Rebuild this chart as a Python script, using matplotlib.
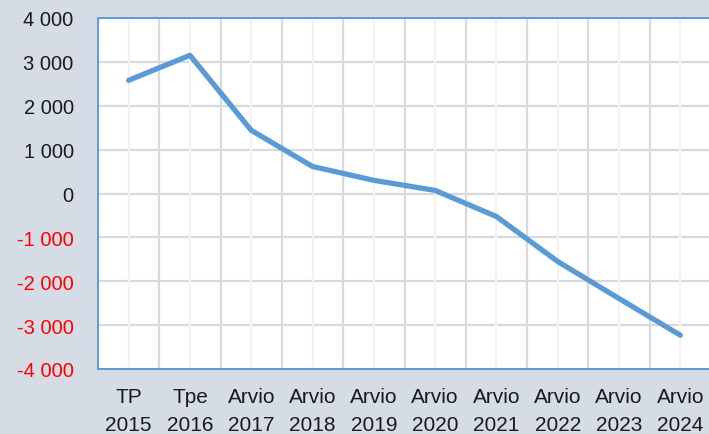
import matplotlib.pyplot as plt
import numpy as np

plt.rcParams['font.family'] = ['Liberation Sans', 'DejaVu Sans']

# data
categories = ['TP\n2015', 'Tpe\n2016', 'Arvio\n2017', 'Arvio\n2018', 'Arvio\n2019',
              'Arvio\n2020', 'Arvio\n2021', 'Arvio\n2022', 'Arvio\n2023', 'Arvio\n2024']
values = [2580, 3150, 1440, 615, 300, 70, -525, -1550, -2395, -3230]
yticks = [4000, 3000, 2000, 1000, 0, -1000, -2000, -3000, -4000]

bg = '#D6DCE5'
blue = '#5B9BD5'

fig = plt.figure(figsize=(7.09, 4.35), dpi=100, facecolor=bg)
W, H = 709, 435
ax = fig.add_axes([98 / W, (H - 370) / H, (711 - 98) / W, (370 - 19) / H])
ax.set_facecolor('white')

x = np.arange(len(categories))

# grid lines
for yt in yticks:
    ax.axhline(yt, color='#D9D9D9', lw=1.6, zorder=1)
for xb in np.arange(0.5, len(categories) - 0.5, 1):
    ax.axvline(xb, color='#D9D9D9', lw=1.6, zorder=1)
for xc in x:
    ax.axvline(xc, color='#F2F2F2', lw=1.6, zorder=1)

ax.plot(x, values, color=blue, lw=3.8, solid_capstyle='round', solid_joinstyle='round', zorder=3)

ax.set_xlim(-0.5, len(categories) - 0.5)
ax.set_ylim(-4000, 4000)

ax.set_xticks(x)
ax.set_xticklabels(categories, fontsize=15, color='#1a1a1a', linespacing=1.6)
ax.set_yticks(yticks)
labels = [f'{v:,}'.replace(',', ' ') for v in yticks]
ax.set_yticklabels(labels, fontsize=14.5)
for lab, v in zip(ax.get_yticklabels(), yticks):
    lab.set_color('red' if v < 0 else '#1a1a1a')

ax.tick_params(axis='both', length=0)
ax.tick_params(axis='y', pad=17.5)
ax.tick_params(axis='x', pad=13)

for side in ['left', 'top', 'bottom']:
    ax.spines[side].set_color(blue)
    ax.spines[side].set_linewidth(1.4)
ax.spines['right'].set_visible(False)
for s in ax.spines.values():
    s.set_zorder(4)

plt.savefig('out.png', dpi=100, facecolor=bg)
